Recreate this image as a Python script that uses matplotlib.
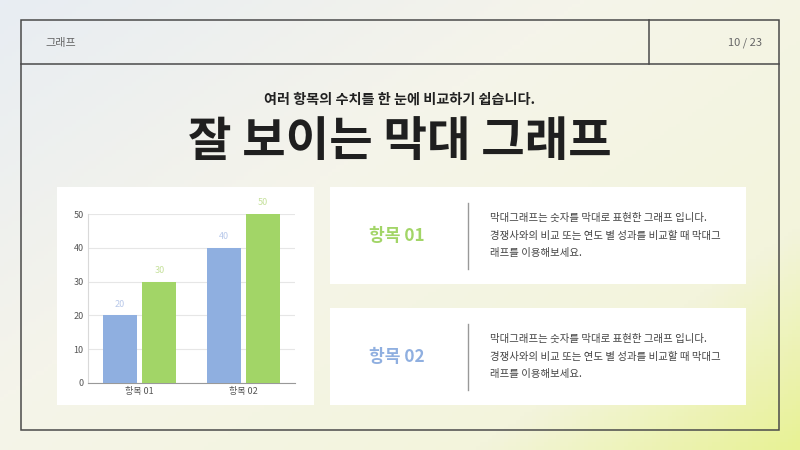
import numpy as np
import matplotlib
matplotlib.use('Agg')
import matplotlib.pyplot as plt
from matplotlib.patches import Rectangle
from matplotlib.colors import LinearSegmentedColormap

plt.rcParams['font.family'] = ['Noto Sans CJK KR', 'DejaVu Sans']

# data
categories = ['항목 01', '항목 02']
series_a = [20, 40]
series_b = [30, 50]
y_ticks = [0, 10, 20, 30, 40, 50]

header_left = '그래프'
header_right = '10 / 23'
subtitle = '여러 항목의 수치를 한 눈에 비교하기 쉽습니다.'
title = '잘 보이는 막대 그래프'
card_titles = ['항목 01', '항목 02']
card_lines = ['막대그래프는 숫자를 막대로 표현한 그래프 입니다.',
              '경쟁사와의 비교 또는 연도 별 성과를 비교할 때 막대그',
              '래프를 이용해보세요.']

blue = '#8FAFE0'
green = '#A2D567'
W, H = 800, 450

fig = plt.figure(figsize=(8, 4.5), dpi=100)


def fx(px):
    return px / W


def fy(py):
    return 1 - py / H


# background gradient
bg = fig.add_axes([0, 0, 1, 1])
bg.set_axis_off()
xx, yy = np.meshgrid(np.linspace(0, 1, 200), np.linspace(0, 1, 120))
t = np.clip(0.55 * xx + 0.45 * yy, 0, 1)
cmap = LinearSegmentedColormap.from_list(
    'bg', [(0, '#E8EDF3'), (0.4, '#F5F4EA'), (0.78, '#F3F4DC'), (1, '#E8F295')])
bg.imshow(t, cmap=cmap, extent=[0, 1, 0, 1], origin='upper', aspect='auto')
bg.set_xlim(0, 1)
bg.set_ylim(0, 1)

# frame and header
lc = '#4a4a4a'
bg.add_patch(Rectangle((fx(21), fy(430)), fx(758), 410 / H, fill=False, ec=lc, lw=1.1))
bg.plot([fx(21), fx(779)], [fy(64), fy(64)], color=lc, lw=1.1)
bg.plot([fx(649), fx(649)], [fy(20), fy(64)], color=lc, lw=1.1)
bg.text(fx(45), fy(43), header_left, fontsize=8, color='#666666', va='center', ha='left')
bg.text(fx(762), fy(43), header_right, fontsize=8, color='#666666', va='center', ha='right')

bg.text(0.5, fy(100), subtitle, fontsize=10.2, color='#222222', ha='center', va='center',
        fontweight='semibold')
bg.text(0.5, fy(142), title, fontsize=34, color='#1f1f1f', ha='center', va='center',
        fontweight='black')

# white panels
bg.add_patch(Rectangle((fx(57), fy(405)), fx(257), 218 / H, fc='white', ec='none'))
card_tops = [187, 308]
title_colors = [green, blue]
for i, top in enumerate(card_tops):
    bg.add_patch(Rectangle((fx(330), fy(top + 97)), fx(416), 97 / H, fc='white', ec='none'))
    mid = top + 49
    bg.text(fx(397), fy(mid), card_titles[i], fontsize=12.3, color=title_colors[i],
            ha='center', va='center', fontweight='semibold')
    bg.plot([fx(468), fx(468)], [fy(mid - 33), fy(mid + 33)], color='#999999', lw=1)
    for j, line in enumerate(card_lines):
        bg.text(fx(490), fy(mid - 18 + 17.5 * j), line, fontsize=7.5, color='#444444',
                ha='left', va='center')

# bar chart
ax = fig.add_axes([fx(88), fy(383), fx(207), 169 / H])
ax.set_facecolor('none')
x = np.arange(len(categories))
wbar = 0.33
off = 0.19
b1 = ax.bar(x - off, series_a, wbar, color=blue, zorder=3)
b2 = ax.bar(x + off, series_b, wbar, color=green, zorder=3)
for rect, v in zip(b1, series_a):
    ax.text(rect.get_x() + rect.get_width() / 2, v + 2, str(v), ha='center', va='bottom',
            fontsize=6.5, color='#B9C9EA')
for rect, v in zip(b2, series_b):
    ax.text(rect.get_x() + rect.get_width() / 2, v + 2, str(v), ha='center', va='bottom',
            fontsize=6.5, color='#C6E19C')
ax.set_xlim(-0.5, 1.5)
ax.set_ylim(0, 50)
ax.set_yticks(y_ticks)
ax.set_xticks(x)
ax.set_xticklabels(categories)
ax.tick_params(axis='both', labelsize=6.5, colors='#555555', length=0, pad=3)
ax.grid(axis='y', color='#E6E6E6', lw=0.8, zorder=0)
for s in ['top', 'right']:
    ax.spines[s].set_visible(False)
ax.spines['left'].set_color('#D9D9D9')
ax.spines['bottom'].set_color('#999999')

fig.savefig('out.png', dpi=100)
